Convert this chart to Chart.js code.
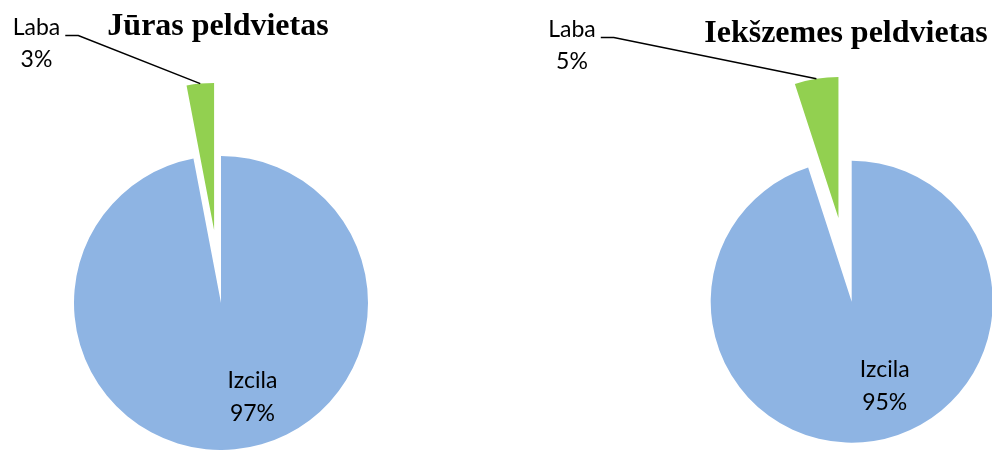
<!DOCTYPE html>
<html>
<head>
<meta charset="utf-8">
<script src="https://cdn.jsdelivr.net/npm/chart.js@4.4.1/dist/chart.umd.min.js"></script>
<style>
html, body { margin: 0; padding: 0; background: #fff; }
#wrap { position: relative; width: 992px; height: 450px; overflow: hidden; }
.box { position: absolute; top: 0; width: 496px; height: 450px; }
</style>
</head>
<body>
<div id="wrap">
  <div class="box" style="left:0"><canvas id="seaChart"></canvas></div>
  <div class="box" style="left:496px"><canvas id="inlandChart"></canvas></div>
</div>
<script>
// Data
const categories = ['Izcila', 'Laba'];
const seaValues = [97, 3];
const inlandValues = [95, 5];
const chartTitles = ['Jūras peldvietas', 'Iekšzemes peldvietas'];
const sliceColors = ['#8EB4E3', '#92D050'];

const labelFont = '23px Lato, "Noto Sans", sans-serif';
const titleFont = 'bold 32px "Liberation Serif", "DejaVu Serif", serif';

// pull the small slice out of the pie (Excel style: same radius, just moved)
const pieLabels = {
    id: 'pieLabels',
    beforeDatasetsDraw(chart, args, opts) {
        const arc = chart.getDatasetMeta(0).data[1];
        if (!arc || arc._exploded) return;
        const baseDraw = arc.draw;
        arc.draw = function (ctx) {
            const half = (this.startAngle + this.endAngle) / 2;
            ctx.save();
            ctx.translate(Math.cos(half) * opts.explode, Math.sin(half) * opts.explode);
            baseDraw.call(this, ctx);
            ctx.restore();
        };
        arc._exploded = true;
    },
    afterDraw(chart, args, opts) {
        const c = chart.ctx;
        const meta = chart.getDatasetMeta(0);
        const values = chart.data.datasets[0].data;
        const total = values.reduce((a, b) => a + b, 0);
        const pct = v => Math.round(v / total * 100) + '%';

        c.save();
        // title
        c.font = titleFont;
        c.fillStyle = '#000';
        c.textAlign = 'center';
        c.textBaseline = 'alphabetic';
        c.fillText(opts.title, opts.titleX, opts.titleY);

        // inside label (big slice)
        const big = meta.data[0];
        c.font = labelFont;
        const ix = big.x + opts.inDx * big.outerRadius;
        const iy = big.y + opts.inDy * big.outerRadius;
        c.fillText(chart.data.labels[0], ix, iy - 8);
        c.fillText(pct(values[0]), ix, iy + 24.5);

        // outside label with leader line (small slice)
        const small = meta.data[1];
        const half = (small.startAngle + small.endAngle) / 2;
        const reach = opts.explode + small.outerRadius;
        const ex = small.x + Math.cos(half) * reach;
        const ey = small.y + Math.sin(half) * reach;
        c.fillText(chart.data.labels[1], opts.outX, opts.outY);
        c.fillText(pct(values[1]), opts.outX, opts.outY + 31.5);
        const w = c.measureText(chart.data.labels[1]).width;
        const lx = opts.outX + w / 2 + 5;
        const ly = opts.outY + 0.5;
        c.strokeStyle = '#000';
        c.lineWidth = 1.5;
        c.beginPath();
        c.moveTo(lx, ly);
        c.lineTo(lx + 13, ly);
        c.lineTo(ex, ey);
        c.stroke();
        c.restore();
    }
};

function makePie(id, values, radius, padding, labelOpts) {
    return new Chart(document.getElementById(id), {
        type: 'pie',
        data: {
            labels: categories,
            datasets: [{
                data: values,
                backgroundColor: sliceColors,
                borderWidth: 0
            }]
        },
        options: {
            responsive: true,
            maintainAspectRatio: false,
            animation: false,
            radius: radius,
            layout: { padding: padding },
            plugins: {
                legend: { display: false },
                tooltip: { enabled: false },
                pieLabels: labelOpts
            }
        },
        plugins: [pieLabels]
    });
}

makePie('seaChart', seaValues, 147,
    { left: 0, right: 54, top: 156, bottom: 0 },
    { title: chartTitles[0], titleX: 218, titleY: 35, explode: 73.4,
      inDx: 0.214, inDy: 0.633, outX: 36.5, outY: 35 });

makePie('inlandChart', inlandValues, 141,
    { left: 215.4, right: 0, top: 153.4, bottom: 0 },
    { title: chartTitles[1], titleX: 350, titleY: 42, explode: 84.7,
      inDx: 0.234, inDy: 0.593, outX: 76, outY: 37 });
</script>
</body>
</html>
